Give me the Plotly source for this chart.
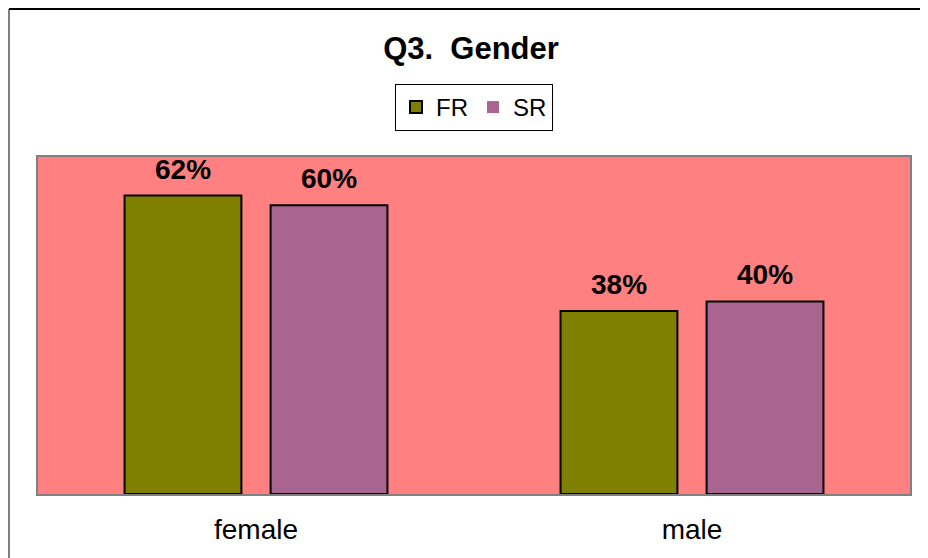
import plotly.graph_objects as go

categories = ["female", "male"]
fr_values = [0.62, 0.38]
sr_values = [0.60, 0.40]
series_names = ["FR", "SR"]
title_text = "Q3.\u00a0\u00a0Gender"

# page body has an 8px default margin; compensate so the figure lands where the reference is
OFF = 8
W, H = 928 - OFF, 558 - OFF
L, R, T, B = 38 - OFF, 18, 157 - OFF, 64
pw, ph = W - L - R, H - T - B

fr_color = "#808000"
sr_color = "#A9648F"
bg_color = "#FF8080"
font_family = "Liberation Sans, Arial, sans-serif"

fig = go.Figure()
for name, vals, col in [(series_names[0], fr_values, fr_color),
                        (series_names[1], sr_values, sr_color)]:
    fig.add_trace(go.Bar(
        x=categories, y=vals, name=name, showlegend=False,
        marker=dict(color=col, line=dict(color="black", width=2)),
        hoverinfo="skip",
    ))

# legend entries (FR swatch outlined, SR swatch plain, as in the reference)
for name, col, lw in [(series_names[0], fr_color, 2), (series_names[1], sr_color, 0)]:
    fig.add_trace(go.Scatter(
        x=[None], y=[None], mode="markers", name=name,
        marker=dict(symbol="square", size=12, color=col,
                    line=dict(color="black", width=lw)),
    ))

# data labels
offsets = [-73, 73]
for vals, dx in [(fr_values, offsets[0]), (sr_values, offsets[1])]:
    for c, v in zip(categories, vals):
        fig.add_annotation(
            x=c, y=v, xref="x", yref="y", text=f"{round(v*100)}%",
            showarrow=False, xshift=dx, yanchor="bottom", yshift=9,
            font=dict(family=font_family, size=28, color="black", weight="bold"),
        )

# outer chart frame lines (left gray, top black)
x_left = 1 / pw * (-L + 1)
y_top = 1 + (T - 1) / ph
y_bot = -B / ph
fig.add_shape(type="line", xref="paper", yref="paper", x0=x_left, x1=x_left,
              y0=y_bot - 0.05, y1=y_top, line=dict(color="#808080", width=2))
fig.add_shape(type="line", xref="paper", yref="paper", x0=x_left, x1=1 + R / pw + 0.05,
              y0=y_top, y1=y_top, line=dict(color="black", width=2))

fig.update_layout(
    width=W, height=H,
    margin=dict(l=L, r=R, t=T, b=B),
    paper_bgcolor="white",
    plot_bgcolor=bg_color,
    barmode="group",
    bargap=0.33,
    bargroupgap=0.2,
    font=dict(family=font_family, color="black"),
    title=dict(text=title_text, x=(471 - OFF) / W, xanchor="center",
               y=1 - (48 - OFF) / H, yanchor="middle",
               font=dict(family=font_family, size=31, color="black", weight="bold")),
    legend=dict(orientation="h", x=(474 - L - OFF) / pw, xanchor="center",
                y=1 + (T - (84 - OFF)) / ph, yanchor="top",
                bordercolor="black", borderwidth=1, bgcolor="white",
                font=dict(family=font_family, size=24, color="black"),
                itemwidth=30, tracegroupgap=0),
    showlegend=True,
)
fig.update_xaxes(showline=True, linecolor="#808080", linewidth=2, mirror=True,
                 ticks="", tickfont=dict(family=font_family, size=28, color="black"),
                 ticklabelstandoff=9)
fig.update_yaxes(range=[0, 0.70], showline=True, linecolor="#808080", linewidth=2,
                 mirror=True, showgrid=False, showticklabels=False, ticks="",
                 zeroline=False)

fig.write_html("out.html")
